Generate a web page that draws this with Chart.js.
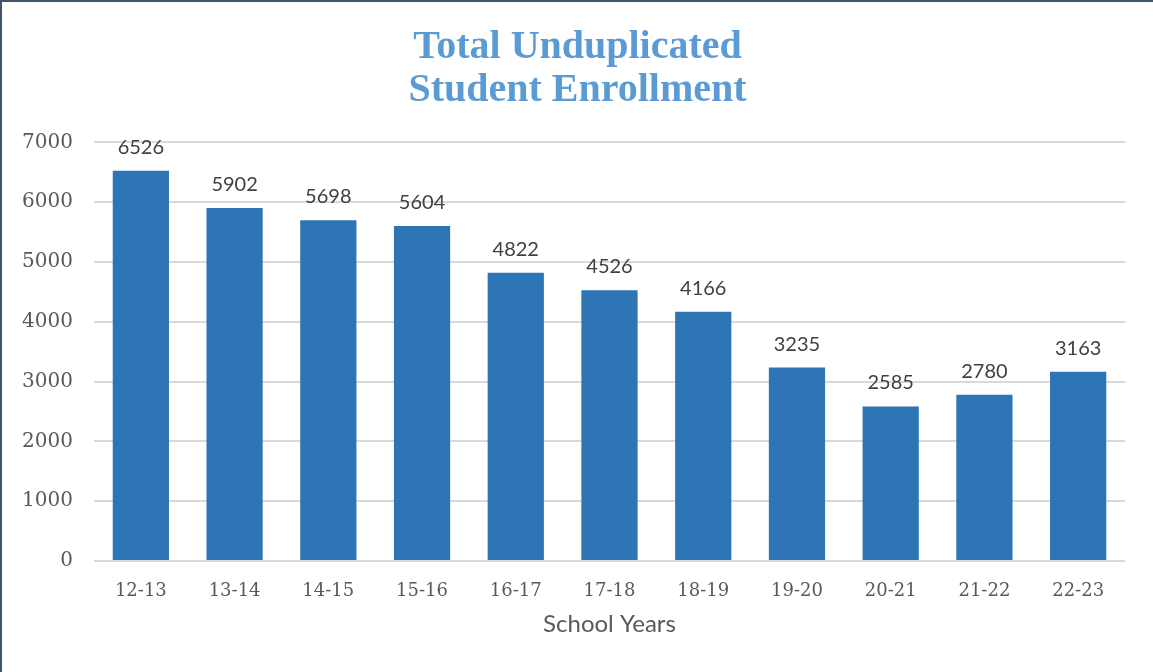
<!DOCTYPE html>
<html lang="en">
<head>
    <meta charset="UTF-8">
    <title>Total Unduplicated Student Enrollment</title>
    <script src="https://cdn.jsdelivr.net/npm/chart.js"></script>
    <style>
        html, body { margin: 0; padding: 0; background: #fff; }
        .frame {
            position: absolute;
            left: 0; top: 0;
            width: 1151px; height: 670px;
            border-top: 2px solid #44546a;
            border-left: 2px solid #44546a;
        }
        canvas { display: block; }
    </style>
</head>
<body>
    <div class="frame"><canvas id="enrollChart" width="1151" height="670"></canvas></div>

    <script>
        const schoolYears = ["12-13", "13-14", "14-15", "15-16", "16-17", "17-18", "18-19", "19-20", "20-21", "21-22", "22-23"];
        const enrollment = [6526, 5902, 5698, 5604, 4822, 4526, 4166, 3235, 2585, 2780, 3163];
        const titleLines = ["Total Unduplicated", "Student Enrollment"];
        const axisTitle = "School Years";

        // value labels above each bar
        const barLabels = {
            id: 'barLabels',
            afterDatasetsDraw(chart) {
                const ctx = chart.ctx;
                const meta = chart.getDatasetMeta(0);
                ctx.save();
                ctx.font = '20px Lato, "Open Sans", sans-serif';
                ctx.fillStyle = '#404040';
                ctx.textAlign = 'center';
                ctx.textBaseline = 'alphabetic';
                meta.data.forEach((bar, i) => {
                    ctx.fillText(enrollment[i], bar.x, bar.y - 17);
                });
                ctx.restore();
            }
        };

        new Chart(document.getElementById('enrollChart'), {
            type: 'bar',
            data: {
                labels: schoolYears,
                datasets: [{
                    data: enrollment,
                    backgroundColor: '#2e75b6',
                    barPercentage: 0.6,
                    categoryPercentage: 1.0
                }]
            },
            options: {
                responsive: false,
                animation: false,
                layout: { padding: { left: 0, right: 0, top: 0, bottom: 33 } },
                plugins: {
                    legend: { display: false },
                    tooltip: { enabled: false },
                    title: {
                        display: true,
                        text: titleLines,
                        color: '#5b9bd5',
                        font: { family: '"Liberation Serif", serif', size: 40, weight: 'bold', lineHeight: 1.08 },
                        padding: { top: 24, bottom: 30 }
                    }
                },
                scales: {
                    y: {
                        min: 0,
                        max: 7000,
                        afterFit(scale) { scale.width = 92; },
                        ticks: {
                            stepSize: 1000,
                            color: '#595959',
                            padding: 21,
                            font: { family: '"DejaVu Serif", serif', size: 20 },
                            callback: v => String(v)
                        },
                        grid: { color: '#d9d9d9', lineWidth: 2, drawTicks: false },
                        border: { display: false }
                    },
                    // empty right-hand strip so the title stays centred on the whole frame
                    yRight: {
                        position: 'right',
                        min: 0,
                        max: 7000,
                        afterFit(scale) { scale.width = 28; },
                        ticks: { display: false },
                        grid: { display: false, drawTicks: false },
                        border: { display: false }
                    },
                    x: {
                        afterFit(scale) { scale.height = 78; },
                        ticks: {
                            color: '#595959',
                            padding: 20,
                            font: { family: '"DejaVu Serif", serif', size: 18 }
                        },
                        grid: { display: false, drawTicks: false },
                        border: { display: false },
                        title: {
                            display: true,
                            text: axisTitle,
                            color: '#595959',
                            font: { family: 'Lato, "Open Sans", sans-serif', size: 24 },
                            padding: { top: 0, bottom: 0 }
                        }
                    }
                }
            },
            plugins: [barLabels]
        });
    </script>
</body>
</html>
